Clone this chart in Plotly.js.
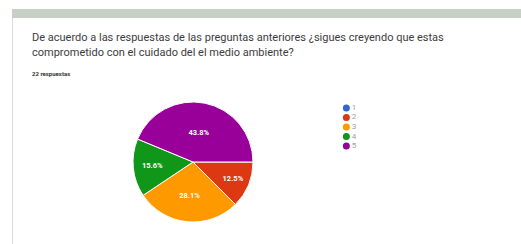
<!DOCTYPE html>
<html><head><meta charset="utf-8">
<script src="https://cdn.plot.ly/plotly-3.0.1.min.js"></script>
<style>html,body{margin:0;padding:0;background:#fff}#chart{width:521px;height:244px}</style>
</head><body><div id="chart"></div>
<script>
const categories = ['1', '2', '3', '4', '5'];
const counts = [0, 4, 9, 5, 14];
const colors = ['#3366cc', '#dc3912', '#ff9900', '#109618', '#990099'];
const titleLines = ['De acuerdo a las respuestas de las preguntas anteriores ¿sigues creyendo que estas', 'comprometido con el cuidado del el medio ambiente?'];
const subtitle = '22 respuestas';

const W = 521, H = 244;
const pie = {
  type: 'pie', labels: categories, values: counts, sort: false,
  direction: 'clockwise', rotation: 90,
  marker: {colors: colors, line: {color: '#ffffff', width: 1}},
  texttemplate: counts.map(v => v > 0 ? '%{percent:.1%}' : ''),
  textposition: 'inside', insidetextorientation: 'horizontal',
  textfont: {family: 'Roboto, Arial, sans-serif', size: 7.5, color: '#ffffff', weight: 'bold'},
  showlegend: false, hoverinfo: 'none',
  domain: {x: [133 / W, 253 / W], y: [22 / H, 142 / H]}
};
const legendTrace = {
  type: 'scatter', mode: 'markers+text', xaxis: 'x', yaxis: 'y',
  x: categories.map(() => 0), y: categories,
  text: categories, textposition: 'middle right',
  textfont: {family: 'Roboto, Arial, sans-serif', size: 8, color: '#9e9e9e'},
  marker: {color: colors, size: 7}, showlegend: false, hoverinfo: 'none', cliponaxis: false
};
const titleFont = {family: 'Roboto, Arial, sans-serif', size: 11, color: '#3c3c3c'};
const layout = {
  width: W, height: H, margin: {l: 0, r: 0, t: 0, b: 0},
  paper_bgcolor: '#ffffff', plot_bgcolor: 'rgba(0,0,0,0)',
  xaxis: {domain: [341 / W, 400 / W], range: [-0.3, 3], visible: false, fixedrange: true},
  yaxis: {domain: [(H - 153) / H, (H - 101) / H], type: 'category', autorange: 'reversed', range: [4.5, -0.5], visible: false, fixedrange: true},
  annotations: [
    {text: titleLines[0], xref: 'paper', yref: 'paper', x: 30 / W, y: 1 - 37 / H, xanchor: 'left', yanchor: 'middle', showarrow: false, font: titleFont},
    {text: titleLines[1], xref: 'paper', yref: 'paper', x: 30 / W, y: 1 - 52 / H, xanchor: 'left', yanchor: 'middle', showarrow: false, font: titleFont},
    {text: subtitle, xref: 'paper', yref: 'paper', x: 30 / W, y: 1 - 73 / H, xanchor: 'left', yanchor: 'middle', showarrow: false,
      font: {family: 'Roboto, Arial, sans-serif', size: 6, color: '#333333', weight: 'bold'}}],
  shapes: [
    {type: 'rect', xref: 'paper', yref: 'paper', x0: 12 / W, x1: 1, y0: 1 - 18 / H, y1: 1 - 9 / H, fillcolor: '#c8cfc7', line: {width: 0}, layer: 'below'},
    {type: 'line', xref: 'paper', yref: 'paper', x0: 12.5 / W, x1: 12.5 / W, y0: 0, y1: 1 - 18 / H, line: {color: '#dadada', width: 1}, layer: 'below'}
  ]
};
Plotly.newPlot('chart', [pie, legendTrace], layout, {displayModeBar: false, staticPlot: true});
</script></body></html>
